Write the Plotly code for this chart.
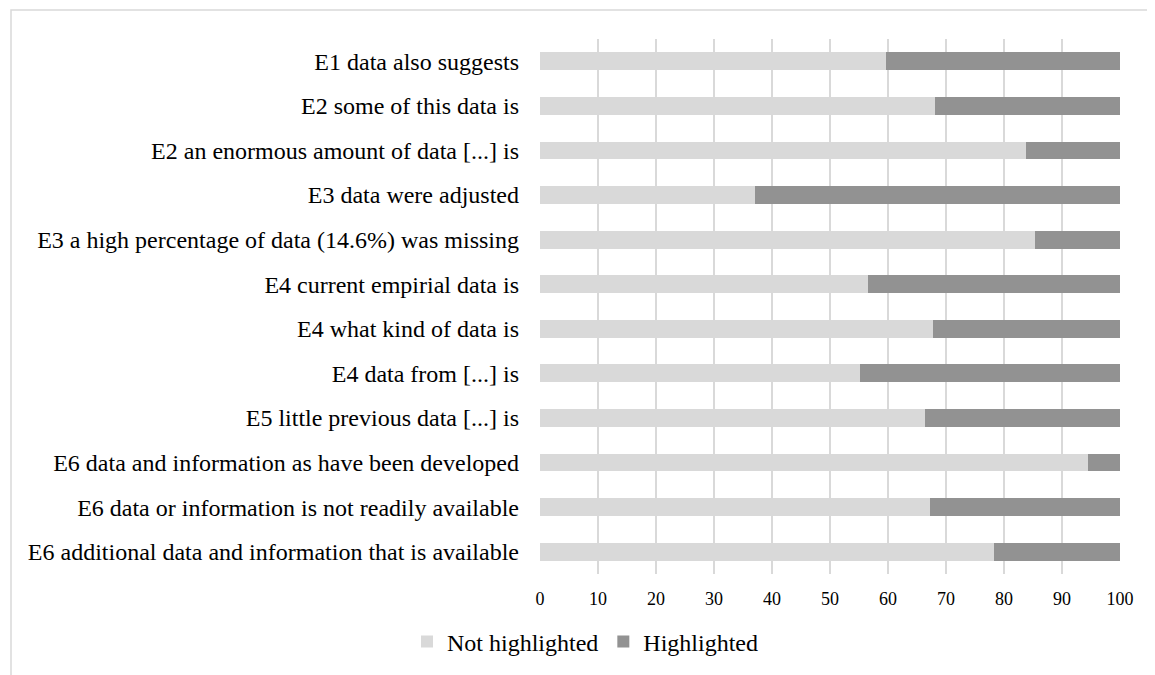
import plotly.graph_objects as go

categories = [
    "E1 data also suggests",
    "E2 some of this data is",
    "E2 an enormous amount of data [...] is",
    "E3 data were adjusted",
    "E3 a high percentage of data (14.6%) was missing",
    "E4 current empirial data is",
    "E4 what kind of data is",
    "E4 data from [...] is",
    "E5 little previous data [...] is",
    "E6 data and information as have been developed",
    "E6 data or information is not readily available",
    "E6 additional data and information that is available",
]
not_highlighted = [59.6, 68.1, 83.8, 37.1, 85.3, 56.6, 67.8, 55.2, 66.3, 94.5, 67.3, 78.2]
highlighted = [40.4, 31.9, 16.2, 62.9, 14.7, 43.4, 32.2, 44.8, 33.7, 5.8, 32.7, 21.8]
x_ticks = [0, 10, 20, 30, 40, 50, 60, 70, 80, 90, 100]

FONT = "Liberation Serif"
W, H = 1155, 675
OFF = 8  # page body margin offset
L, R, T, B = 540 - OFF, 1155 - (1120 - OFF), 39 - OFF, 675 - (574 - OFF)
pw, ph = W - L - R, H - T - B
plot_bottom = T + ph

fig = go.Figure()
fig.add_trace(go.Bar(
    y=categories, x=not_highlighted, orientation="h", name="Not highlighted",
    marker=dict(color="#d9d9d9", line=dict(width=0)),
))
fig.add_trace(go.Bar(
    y=categories, x=highlighted, orientation="h", name="Highlighted",
    marker=dict(color="#929292", line=dict(width=0)),
))

fig.update_layout(
    width=W, height=H,
    margin=dict(l=L, r=R, t=T, b=B, pad=0),
    barmode="stack", bargap=0.6,
    plot_bgcolor="white", paper_bgcolor="white",
    font=dict(family=FONT, color="#000000"),
    showlegend=True,
    legend=dict(
        orientation="h", x=(577 - L) / pw, xanchor="center",
        y=-(634 - plot_bottom) / ph, yanchor="middle",
        font=dict(family=FONT, size=24, color="#000000"),
        itemwidth=30, traceorder="normal",
        bgcolor="rgba(0,0,0,0)",
    ),
    xaxis=dict(
        range=[0, 100], tickvals=x_ticks, ticktext=[str(v) for v in x_ticks],
        showgrid=True, gridcolor="#d9d9d9", gridwidth=1.5,
        zeroline=False, showline=False, ticks="",
        tickfont=dict(family=FONT, size=18, color="#000000"),
        ticklabelstandoff=12,
    ),
    yaxis=dict(
        categoryorder="array", categoryarray=categories, autorange="reversed",
        showgrid=False, zeroline=False, showline=False, ticks="",
        tickfont=dict(family=FONT, size=24, color="#000000"),
        ticklabelstandoff=20,
    ),
    shapes=[dict(
        type="rect", xref="paper", yref="paper", layer="below",
        x0=(11 - OFF - L) / pw, x1=(1250 - L) / pw,
        y0=1 + (T - (10 - OFF)) / ph, y1=-(720 - plot_bottom) / ph,
        line=dict(color="#d9d9d9", width=1.5), fillcolor="rgba(0,0,0,0)",
    )],
)

fig.write_html("out.html")
